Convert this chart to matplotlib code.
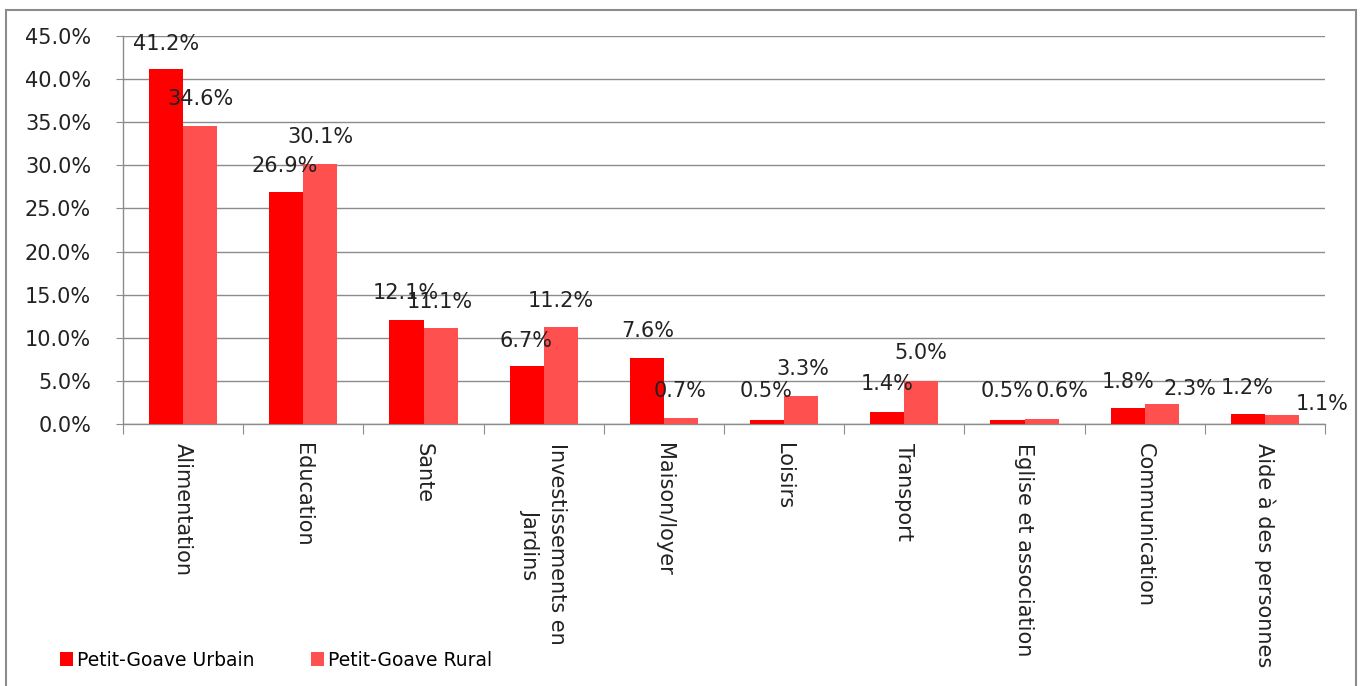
import matplotlib
matplotlib.use("Agg")
import matplotlib.pyplot as plt
import numpy as np
from matplotlib.patches import Rectangle

categories = ["Alimentation", "Education", "Sante", "Investissements en\nJardins",
              "Maison/loyer", "Loisirs", "Transport", "Eglise et association",
              "Communication", "Aide à des personnes"]
urbain = [41.2, 26.9, 12.1, 6.7, 7.6, 0.5, 1.4, 0.5, 1.8, 1.2]
rural = [34.6, 30.1, 11.1, 11.2, 0.7, 3.3, 5.0, 0.6, 2.3, 1.1]
series_names = ["Petit-Goave Urbain", "Petit-Goave Rural"]
colors = ["#FF0000", "#FF5050"]

# label offsets in pixels (dx, dy above bar top), mimic Excel placement
off_u = [(0, 25), (-2, 26), (-1, 27), (-1, 25), (1, 27), (-1, 29), (0, 28), (0, 29), (0, 26), (-1, 26)]
off_r = [(0, 27), (0, 27), (-1, 26), (0, 26), (-1, 27), (2, 27), (0, 28), (21, 28), (28, 15), (40, 11)]

W, H = 1362, 686
fig = plt.figure(figsize=(W / 100, H / 100), dpi=100)
plt.rcParams['font.family'] = ['DejaVu Sans']
FS = 15

# outer frame
fig.patches.append(Rectangle((6 / W, -0.05), (1356 - 6) / W, (H - 10) / H + 0.05,
                             transform=fig.transFigure, fill=False,
                             edgecolor="#8c8c8c", linewidth=1.5))

ax = fig.add_axes([123 / W, 1 - 424 / H, (1325 - 123) / W, (424 - 36) / H])
x = np.arange(len(categories))
bw = 0.283
b1 = ax.bar(x - bw / 2, urbain, bw, color=colors[0], label=series_names[0], zorder=3)
b2 = ax.bar(x + bw / 2, rural, bw, color=colors[1], label=series_names[1], zorder=3)

ax.set_xlim(-0.5, len(categories) - 0.5)
ax.set_ylim(0, 45)
ax.set_yticks(np.arange(0, 46, 5))
ax.set_yticklabels([f"{v:.1f}%" for v in np.arange(0, 46, 5)], fontsize=FS, color="#222222")
ax.yaxis.grid(True, color="#8c8c8c", linewidth=1.0, zorder=0)
ax.set_axisbelow(True)

ax.set_xticks(np.arange(-0.5, len(categories), 1.0))
ax.set_xticklabels([])
ax.set_xticks(x, minor=True)
ax.set_xticklabels(categories, minor=True, rotation=-90, fontsize=FS, va="top",
                   ha="center", color="#222222", linespacing=1.4)
ax.tick_params(axis="x", which="minor", length=0, pad=14)
ax.tick_params(axis="x", which="major", length=7, color="#8c8c8c", direction="out")
ax.tick_params(axis="y", length=5, color="#8c8c8c", pad=18)

for s in ["top", "right"]:
    ax.spines[s].set_visible(False)
for s in ["left", "bottom"]:
    ax.spines[s].set_color("#8c8c8c")
    ax.spines[s].set_linewidth(1.0)

for bars, vals, offs in [(b1, urbain, off_u), (b2, rural, off_r)]:
    for b, v, (dx, dy) in zip(bars, vals, offs):
        ax.annotate(f"{v:.1f}%", (b.get_x() + b.get_width() / 2, v),
                    xytext=(dx * 0.72, dy * 0.72), textcoords="offset points",
                    ha="center", va="center", fontsize=FS, color="#222222", zorder=5)

fig.legend(handles=[b1, b2], labels=series_names, loc="center left",
           bbox_to_anchor=(60 / W, 1 - 660 / H), ncol=2, frameon=False,
           fontsize=13.5, handlelength=0.7, handleheight=0.7, handletextpad=0.2,
           columnspacing=3.0, borderaxespad=0, borderpad=0)

fig.savefig("out.png", dpi=100)
